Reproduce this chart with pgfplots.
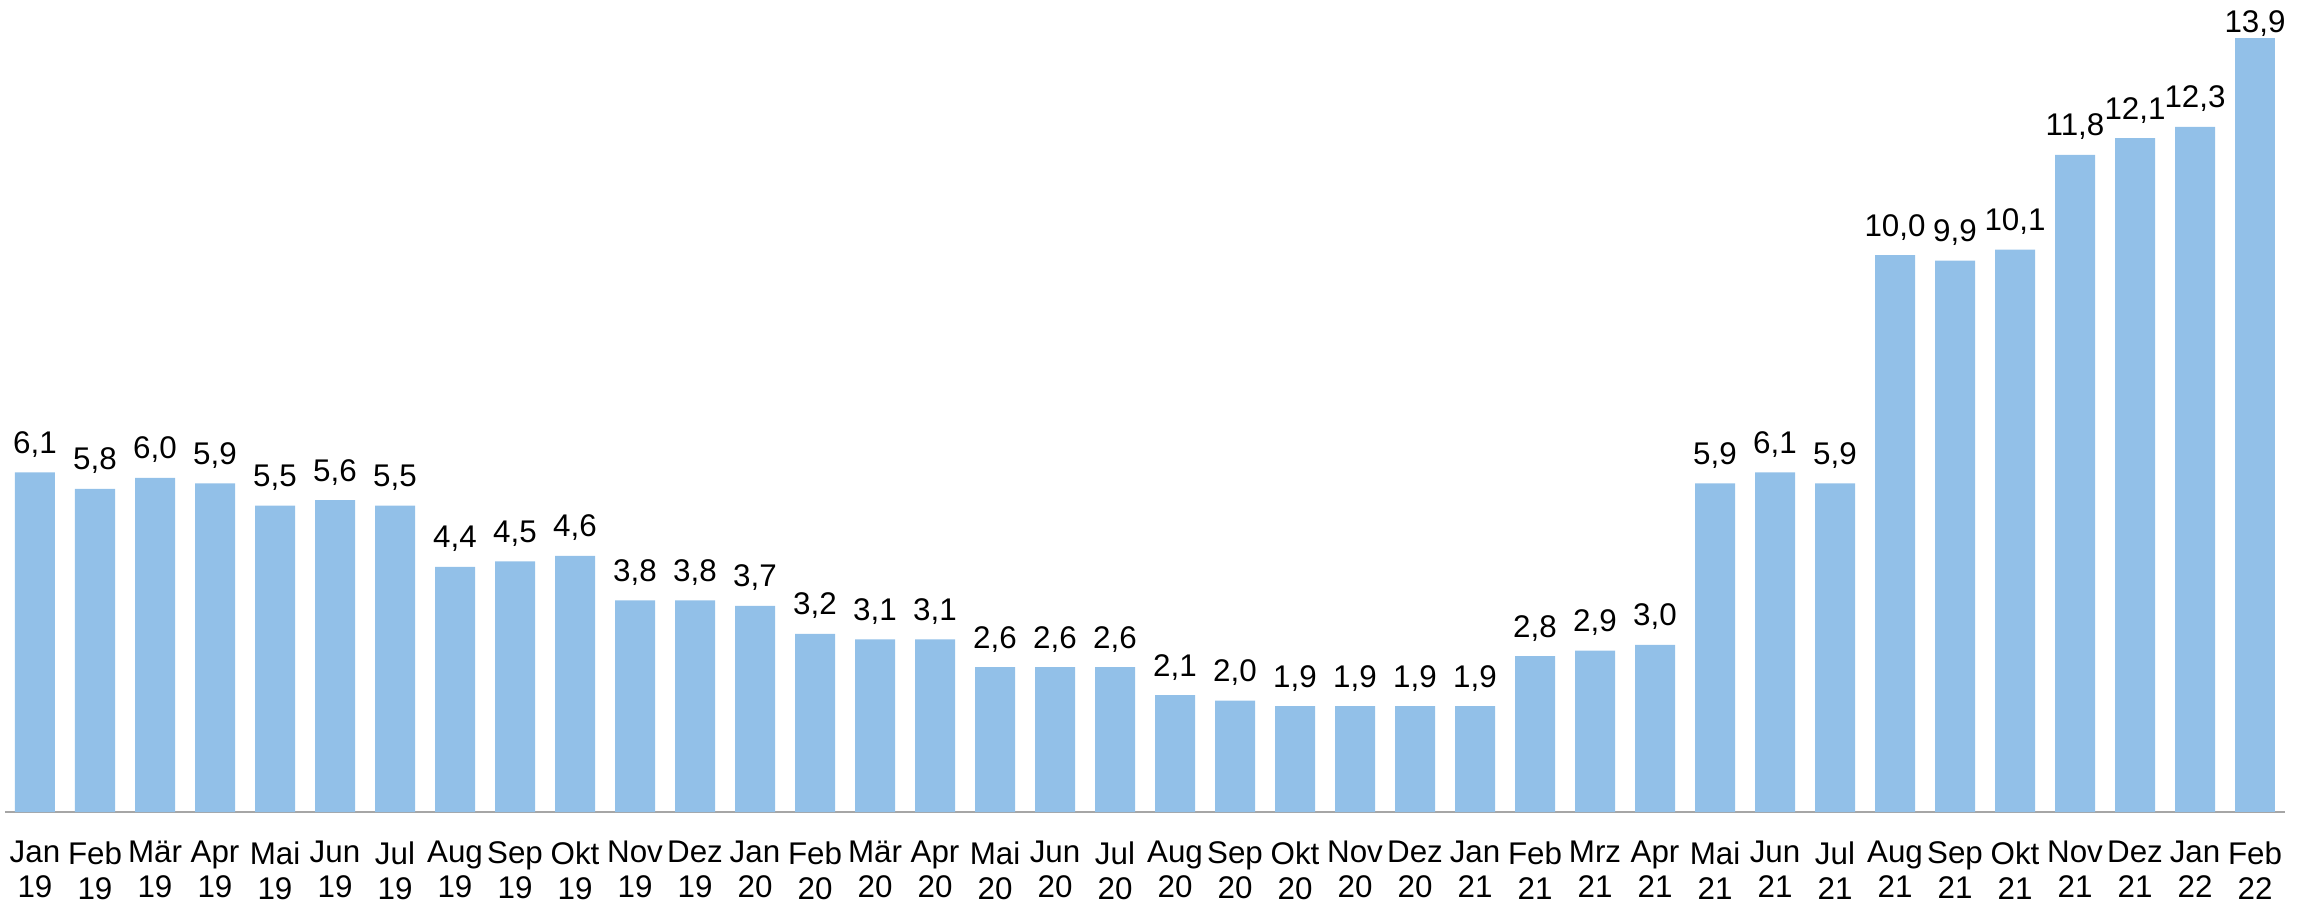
\documentclass[border=0pt]{standalone}
\usepackage{pgfplots}
\pgfplotsset{compat=1.18}
\usepackage{pgfplotstable}
\usepackage{fontspec}
\setmainfont{Liberation Sans}
\definecolor{barblue}{RGB}{146,192,232}
\definecolor{axgray}{RGB}{166,166,166}
\pgfplotstableread{
x y
0 6.1
1 5.8
2 6.0
3 5.9
4 5.5
5 5.6
6 5.5
7 4.4
8 4.5
9 4.6
10 3.8
11 3.8
12 3.7
13 3.2
14 3.1
15 3.1
16 2.6
17 2.6
18 2.6
19 2.1
20 2.0
21 1.9
22 1.9
23 1.9
24 1.9
25 2.8
26 2.9
27 3.0
28 5.9
29 6.1
30 5.9
31 10.0
32 9.9
33 10.1
34 11.8
35 12.1
36 12.3
}\datatable
\pgfplotstableread{
x y
37 13.9
}\lasttable
\begin{document}
\begin{tikzpicture}
\begin{axis}[
  scale only axis,
  width=684pt, height=243.6pt,
  xmin=-0.5, xmax=37.5,
  ymin=0, ymax=14.58,
  clip=false,
  axis x line*=bottom,
  axis y line=none,
  x axis line style={draw=axgray, line width=0.6pt, -},
  major tick length=0pt,
  xtick={0,...,37},
  xticklabels={{Jan\\19},{Feb\\19},{Mär\\19},{Apr\\19},{Mai\\19},{Jun\\19},{Jul\\19},{Aug\\19},{Sep\\19},{Okt\\19},{Nov\\19},{Dez\\19},
    {Jan\\20},{Feb\\20},{Mär\\20},{Apr\\20},{Mai\\20},{Jun\\20},{Jul\\20},{Aug\\20},{Sep\\20},{Okt\\20},{Nov\\20},{Dez\\20},
    {Jan\\21},{Feb\\21},{Mrz\\21},{Apr\\21},{Mai\\21},{Jun\\21},{Jul\\21},{Aug\\21},{Sep\\21},{Okt\\21},{Nov\\21},{Dez\\21},
    {Jan\\22},{Feb\\22}},
  xticklabel style={align=center, font=\fontsize{9.4}{10.5}\selectfont, anchor=north, inner sep=0pt, yshift=-8.6pt},
  ybar, bar width=12pt, bar shift=0pt,
  /pgf/number format/fixed, /pgf/number format/fixed zerofill, /pgf/number format/precision=1,
  /pgf/number format/use comma, /pgf/number format/assume math mode=true,
  nodes near coords,
  nodes near coords style={font=\fontsize{9.4}{10.5}\selectfont, anchor=base, inner sep=0pt, yshift=5.7pt},
]
\addplot[fill=barblue, draw=none] table[x=x, y=y] {\datatable};
\addplot[fill=barblue, draw=none, every node near coord/.append style={yshift=-4.2pt}] table[x=x, y=y] {\lasttable};
\end{axis}
\path ([xshift=-1.5pt,yshift=-27pt]current axis.south west) rectangle ([xshift=9pt]current axis.north east);
\end{tikzpicture}
\end{document}
